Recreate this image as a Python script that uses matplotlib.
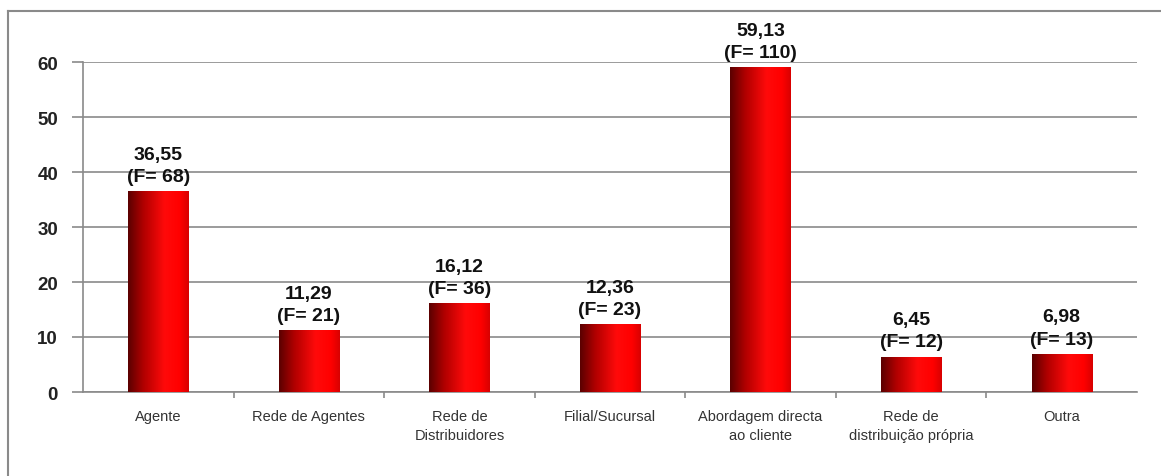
import numpy as np
import matplotlib
matplotlib.use("Agg")
import matplotlib.pyplot as plt
from matplotlib.colors import LinearSegmentedColormap
from matplotlib.lines import Line2D

categories = ["Agente", "Rede de Agentes", "Rede de\nDistribuidores", "Filial/Sucursal",
              "Abordagem directa\nao cliente", "Rede de\ndistribuição própria", "Outra"]
percent = [36.55, 11.29, 16.12, 12.36, 59.13, 6.45, 6.98]
freq = [68, 21, 36, 23, 110, 12, 13]
yticks = [0, 10, 20, 30, 40, 50, 60]

plt.rcParams["font.family"] = ["Liberation Sans", "DejaVu Sans"]

fig = plt.figure(figsize=(11.61, 4.77), dpi=100)
ax = fig.add_axes([83 / 1161, 1 - 393 / 477, (1137 - 83) / 1161, (393 - 63) / 477])

x = np.arange(len(categories))
bars = ax.bar(x, percent, width=0.4, color="#ff0000", edgecolor="none", zorder=3)

# horizontal shading: dark edge on the left, bright red towards the right
cmap = LinearSegmentedColormap.from_list(
    "redshade", [(0.0, "#5a0000"), (0.25, "#b00000"), (0.6, "#ff0a0a"), (0.85, "#ff0000"), (1.0, "#d80000")])
grad = np.linspace(0, 1, 256).reshape(1, -1)
for b in bars:
    x0, w, h = b.get_x(), b.get_width(), b.get_height()
    im = ax.imshow(grad, cmap=cmap, aspect="auto", extent=(x0, x0 + w, 0, h), zorder=4, interpolation="bilinear")
    im.set_clip_path(b)

for xi, p, f in zip(x, percent, freq):
    ax.text(xi, p + 1.1, f"{p:.2f}".replace(".", ",") + f"\n(F= {f})", ha="center", va="bottom",
            fontsize=14, fontweight="bold", color="#111111", linespacing=1.4, clip_on=False, zorder=5)

ax.set_xlim(-0.5, len(categories) - 0.5)
ax.set_ylim(0, 60)
ax.set_yticks(yticks)
ax.set_yticklabels([str(t) for t in yticks], fontsize=13.5, fontweight="bold", color="#222222")
ax.yaxis.grid(True, color="#8a8a8a", linewidth=1.2, zorder=0)
ax.set_axisbelow(True)

ax.set_xticks(x)
ax.set_xticklabels(categories, fontsize=10.5, color="#333333", linespacing=1.45)
ax.tick_params(axis="x", length=0, pad=12)
ax.set_xticks(np.arange(0.5, len(categories) - 0.5, 1), minor=True)
ax.tick_params(axis="x", which="minor", length=4, color="#8a8a8a", width=1.2)
ax.tick_params(axis="y", length=8, color="#8a8a8a", width=1.2, pad=10)

for s in ["top", "right"]:
    ax.spines[s].set_visible(False)
for s in ["left", "bottom"]:
    ax.spines[s].set_color("#8a8a8a")
    ax.spines[s].set_linewidth(1.2)

# outer chart frame
fig.add_artist(Line2D([8 / 1161, 8 / 1161], [0, 1 - 12 / 477], color="#8a8a8a", linewidth=1.5,
                      transform=fig.transFigure))
fig.add_artist(Line2D([8 / 1161, 1], [1 - 12 / 477, 1 - 12 / 477], color="#8a8a8a", linewidth=1.5,
                      transform=fig.transFigure))

fig.savefig("out.png", dpi=100)
